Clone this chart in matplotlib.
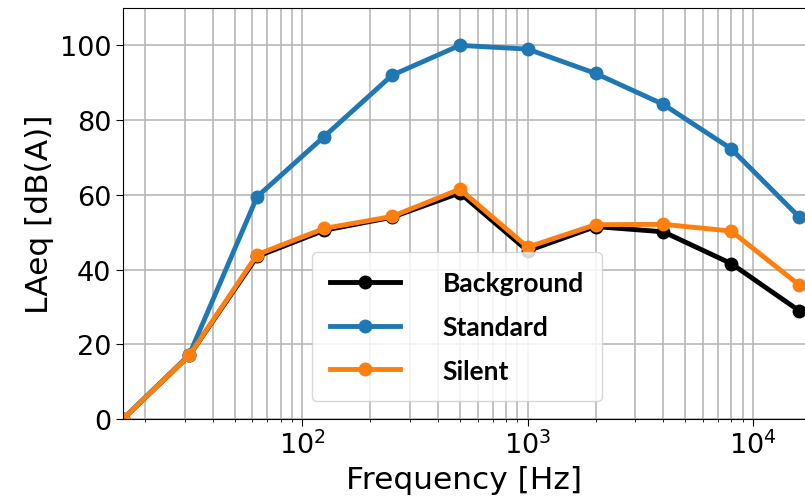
import matplotlib
matplotlib.use("Agg")
import matplotlib.pyplot as plt
import numpy as np

# octave band centre frequencies
freqs = [16, 31.5, 63, 125, 250, 500, 1000, 2000, 4000, 8000, 16000]

background = [0, 17, 43.5, 50.5, 54, 60.5, 45, 51.5, 50.1, 41.6, 29]
standard = [0, 17.2, 59.5, 75.6, 92, 100, 99, 92.5, 84.2, 72.3, 54.1]
silent = [0, 17, 44, 51, 54.2, 61.5, 46, 52, 52.1, 50.3, 35.9]

fig = plt.figure(figsize=(8.05, 5.02), dpi=100)
ax = fig.add_axes([123 / 805, 1 - 420 / 502, 1 - 123 / 805, (420 - 9) / 502])

ax.plot(freqs, background, color="black", marker="o", lw=3.5, ms=9, label="Background")
ax.plot(freqs, standard, color="#1f77b4", marker="o", lw=3.5, ms=9, label="Standard")
ax.plot(freqs, silent, color="#ff7f0e", marker="o", lw=3.5, ms=9, label="Silent")

ax.set_xscale("log")
ax.set_xlim(16, 10 ** (4 + 52 / 225.5))
ax.set_ylim(0, 110)
ax.set_yticks([0, 20, 40, 60, 80, 100])
ax.grid(True, which="both", axis="x", color="#b8b8b8", lw=1.2)
ax.grid(True, which="major", axis="y", color="#b8b8b8", lw=1.2)
ax.spines["right"].set_visible(False)

ax.tick_params(axis="both", which="major", labelsize=19.5, length=5)
ax.set_xlabel("Frequency [Hz]", fontsize=22.5)
ax.set_ylabel("LAeq [dB(A)]", fontsize=22.5)

leg = ax.legend(loc="lower left", bbox_to_anchor=(312 / 805, 1 - 402 / 502),
                bbox_transform=fig.transFigure, borderaxespad=0,
                prop={"family": "Lato", "weight": "bold", "size": 19},
                handlelength=2.65, handletextpad=1.6, labelspacing=0.75,
                borderpad=0.7, framealpha=0.85)
leg.get_frame().set_edgecolor("#d0d0d0")

fig.savefig("out.png", dpi=100)
